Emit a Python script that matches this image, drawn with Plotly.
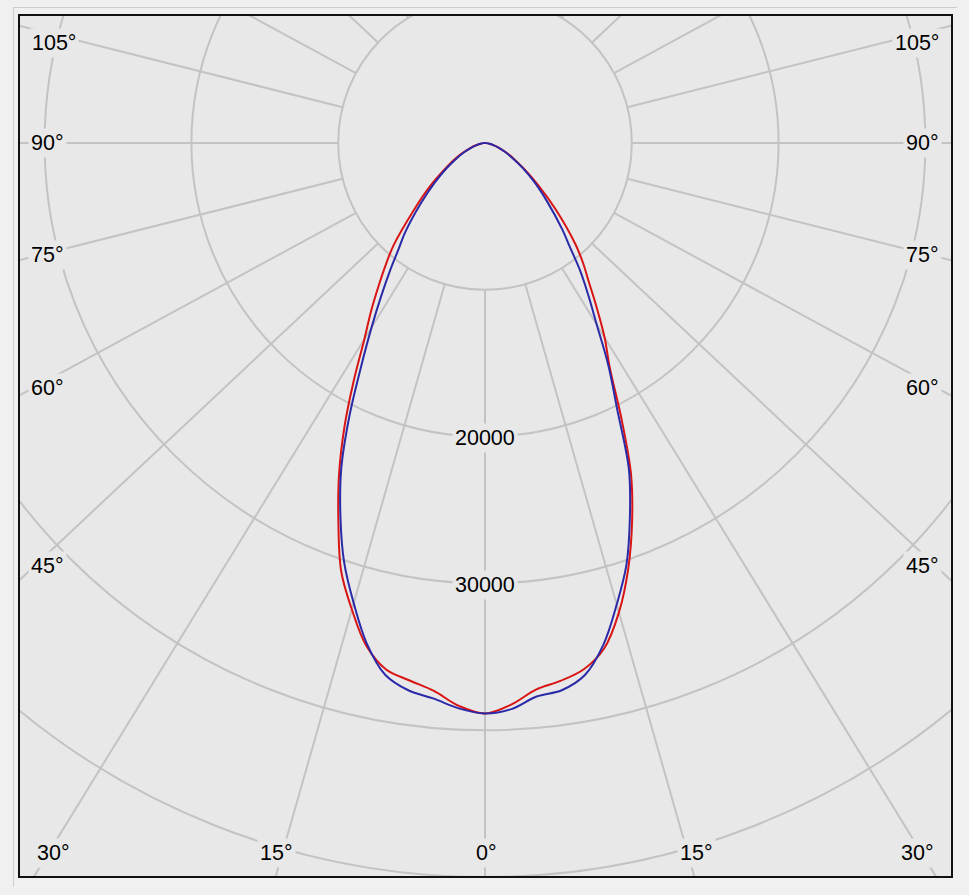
import numpy as np
import plotly.graph_objects as go

# ---------------- data (candela vs. gamma angle) ----------------
gamma = [0, 2.5, 5, 7.5, 10, 12.5, 15, 17.5, 20, 22.5, 25, 27.5, 30, 32.5, 35, 37.5,
         40, 45, 50, 55, 60, 65, 70, 75, 80, 85, 90]
red_left = [38860, 38380, 37470, 36930, 36420, 35080, 32900, 30590, 27420, 24390, 21240, 18125,
            15430, 13550, 11850, 10400, 9100, 6400, 4600, 3200, 2300, 1550, 1000, 600, 300, 100, 0]
red_right = [38860, 38300, 37380, 36960, 36400, 35250, 33100, 30450, 27500, 24400, 20600, 17300,
             15300, 13300, 11600, 10300, 9000, 6400, 4400, 3000, 2100, 1450, 950, 550, 280, 90, 0]
blue_left = [38860, 38550, 37980, 37600, 36780, 34930, 32450, 29960, 27040, 24030, 20520, 17160,
             14520, 12350, 10570, 9050, 7950, 5800, 4200, 3000, 2100, 1450, 950, 550, 280, 90, 0]
blue_right = [38860, 38600, 37850, 37600, 36800, 35000, 32550, 30100, 27100, 24050, 20000, 17100,
              14300, 12300, 10600, 8900, 7700, 5600, 4100, 2900, 2000, 1400, 950, 550, 280, 90, 0]

ring_values = [10000, 20000, 30000, 40000, 50000, 60000]
ring_tick_values = [20000, 30000]
ring_tick_labels = ["20000", "30000"]
radial_angles = list(range(0, 360, 15))
side_labels = ["105°", "90°", "75°", "60°", "45°"]
bottom_labels = ["30°", "15°", "0°", "15°", "30°"]

# ---------------- layout constants (pixels) ----------------
W, H = 969, 895
PL, PR, PT, PB = 19, 952, 15, 877          # plot-area edges
CX, CY = 485, 143                          # pole position
PX_PER_CD = 146.8 / 10000
K = 1.065                                  # horizontal stretch of rays / curves

def px_x(px):
    return (px - CX) / PX_PER_CD

def px_y(py):
    return (CY - py) / PX_PER_CD

def polar_xy(g_deg, vals, side):
    g = np.radians(np.asarray(g_deg, dtype=float))
    v = np.asarray(vals, dtype=float)
    return side * K * v * np.sin(g), -v * np.cos(g)

GRID = "#c3c3c3"
fig = go.Figure()

# radial rays (start at the first ring)
rx, ry = [], []
for a in radial_angles:
    t = np.radians(a)
    d = np.array([K * np.sin(t), -np.cos(t)])
    d = d / np.linalg.norm(d)
    r0, r1 = ring_values[0], 90000
    rx += [d[0] * r0, d[0] * r1, None]
    ry += [d[1] * r0, d[1] * r1, None]
fig.add_trace(go.Scatter(x=rx, y=ry, mode="lines", line=dict(color=GRID, width=2),
                         hoverinfo="skip", showlegend=False))

# rings
for rv in ring_values:
    fig.add_shape(type="circle", xref="x", yref="y", x0=-rv, x1=rv, y0=-rv, y1=rv,
                  line=dict(color=GRID, width=2), layer="below")

# light distribution curves
def curve(left, right):
    g_l = gamma[::-1]
    xl, yl = polar_xy(g_l, left[::-1], -1)
    xr, yr = polar_xy(gamma, right, 1)
    return np.concatenate([xl, xr[1:]]), np.concatenate([yl, yr[1:]])

xr_, yr_ = curve(red_left, red_right)
fig.add_trace(go.Scatter(x=xr_, y=yr_, mode="lines",
                         line=dict(color="#d81414", width=2, shape="spline", smoothing=1.0),
                         hoverinfo="skip", showlegend=False))
xb_, yb_ = curve(blue_left, blue_right)
fig.add_trace(go.Scatter(x=xb_, y=yb_, mode="lines",
                         line=dict(color="#2a2aa8", width=2, shape="spline", smoothing=1.0),
                         hoverinfo="skip", showlegend=False))

FONT = dict(family="Liberation Sans, Arial, sans-serif", size=21.5, color="#000000")
BG = "#e8e8e8"

annotations = []
# ring value labels on the 0° ray
for v, txt in zip(ring_tick_values, ring_tick_labels):
    annotations.append(dict(x=0, y=-v - 1.5 / PX_PER_CD, xref="x", yref="y", text=txt,
                            showarrow=False, font=FONT, bgcolor=BG, borderpad=2,
                            xanchor="center", yanchor="middle"))
# side angle labels
side_y = [43, 143, 255, 388, 566]
side_xl = [54, 47, 47, 47, 47]
side_xr = [917, 922, 922, 922, 922]
for txt, yy, xl, xr in zip(side_labels, side_y, side_xl, side_xr):
    for xx in (xl, xr):
        annotations.append(dict(x=px_x(xx), y=px_y(yy), xref="x", yref="y", text=txt,
                                showarrow=False, font=FONT, bgcolor=BG, borderpad=2,
                                xanchor="center", yanchor="middle"))
bottom_x = [53, 276, 486, 696, 917]
for txt, xx in zip(bottom_labels, bottom_x):
    annotations.append(dict(x=px_x(xx), y=px_y(853), xref="x", yref="y", text=txt,
                            showarrow=False, font=FONT, bgcolor=BG, borderpad=2,
                            xanchor="center", yanchor="middle"))

def paper_x(px):
    return (px - PL) / (PR - PL)

def paper_y(py):
    return (PB - py) / (PB - PT)

shapes_extra = [
    dict(type="rect", xref="paper", yref="paper", x0=0, x1=1, y0=0, y1=1,
         line=dict(color="#111111", width=2), layer="above"),
    dict(type="line", xref="paper", yref="paper", x0=paper_x(13), x1=paper_x(957),
         y0=paper_y(7.5), y1=paper_y(7.5), line=dict(color="#cdcdcd", width=1)),
    dict(type="line", xref="paper", yref="paper", x0=paper_x(13.5), x1=paper_x(13.5),
         y0=paper_y(7.5), y1=paper_y(887), line=dict(color="#cdcdcd", width=1)),
]
for s in shapes_extra:
    fig.add_shape(**s)

fig.update_layout(
    width=W, height=H,
    margin=dict(l=PL, r=W - PR, t=PT, b=H - PB, pad=0),
    paper_bgcolor="#f0f0f0", plot_bgcolor=BG,
    xaxis=dict(range=[px_x(PL), px_x(PR)], visible=False, fixedrange=True),
    yaxis=dict(range=[px_y(PB), px_y(PT)], visible=False, fixedrange=True),
    annotations=annotations, showlegend=False,
)

fig.write_html("out.html", config={"displayModeBar": False},
               post_script="document.body.style.margin='0px';document.body.style.overflow='hidden';document.body.style.background='#f0f0f0';")
